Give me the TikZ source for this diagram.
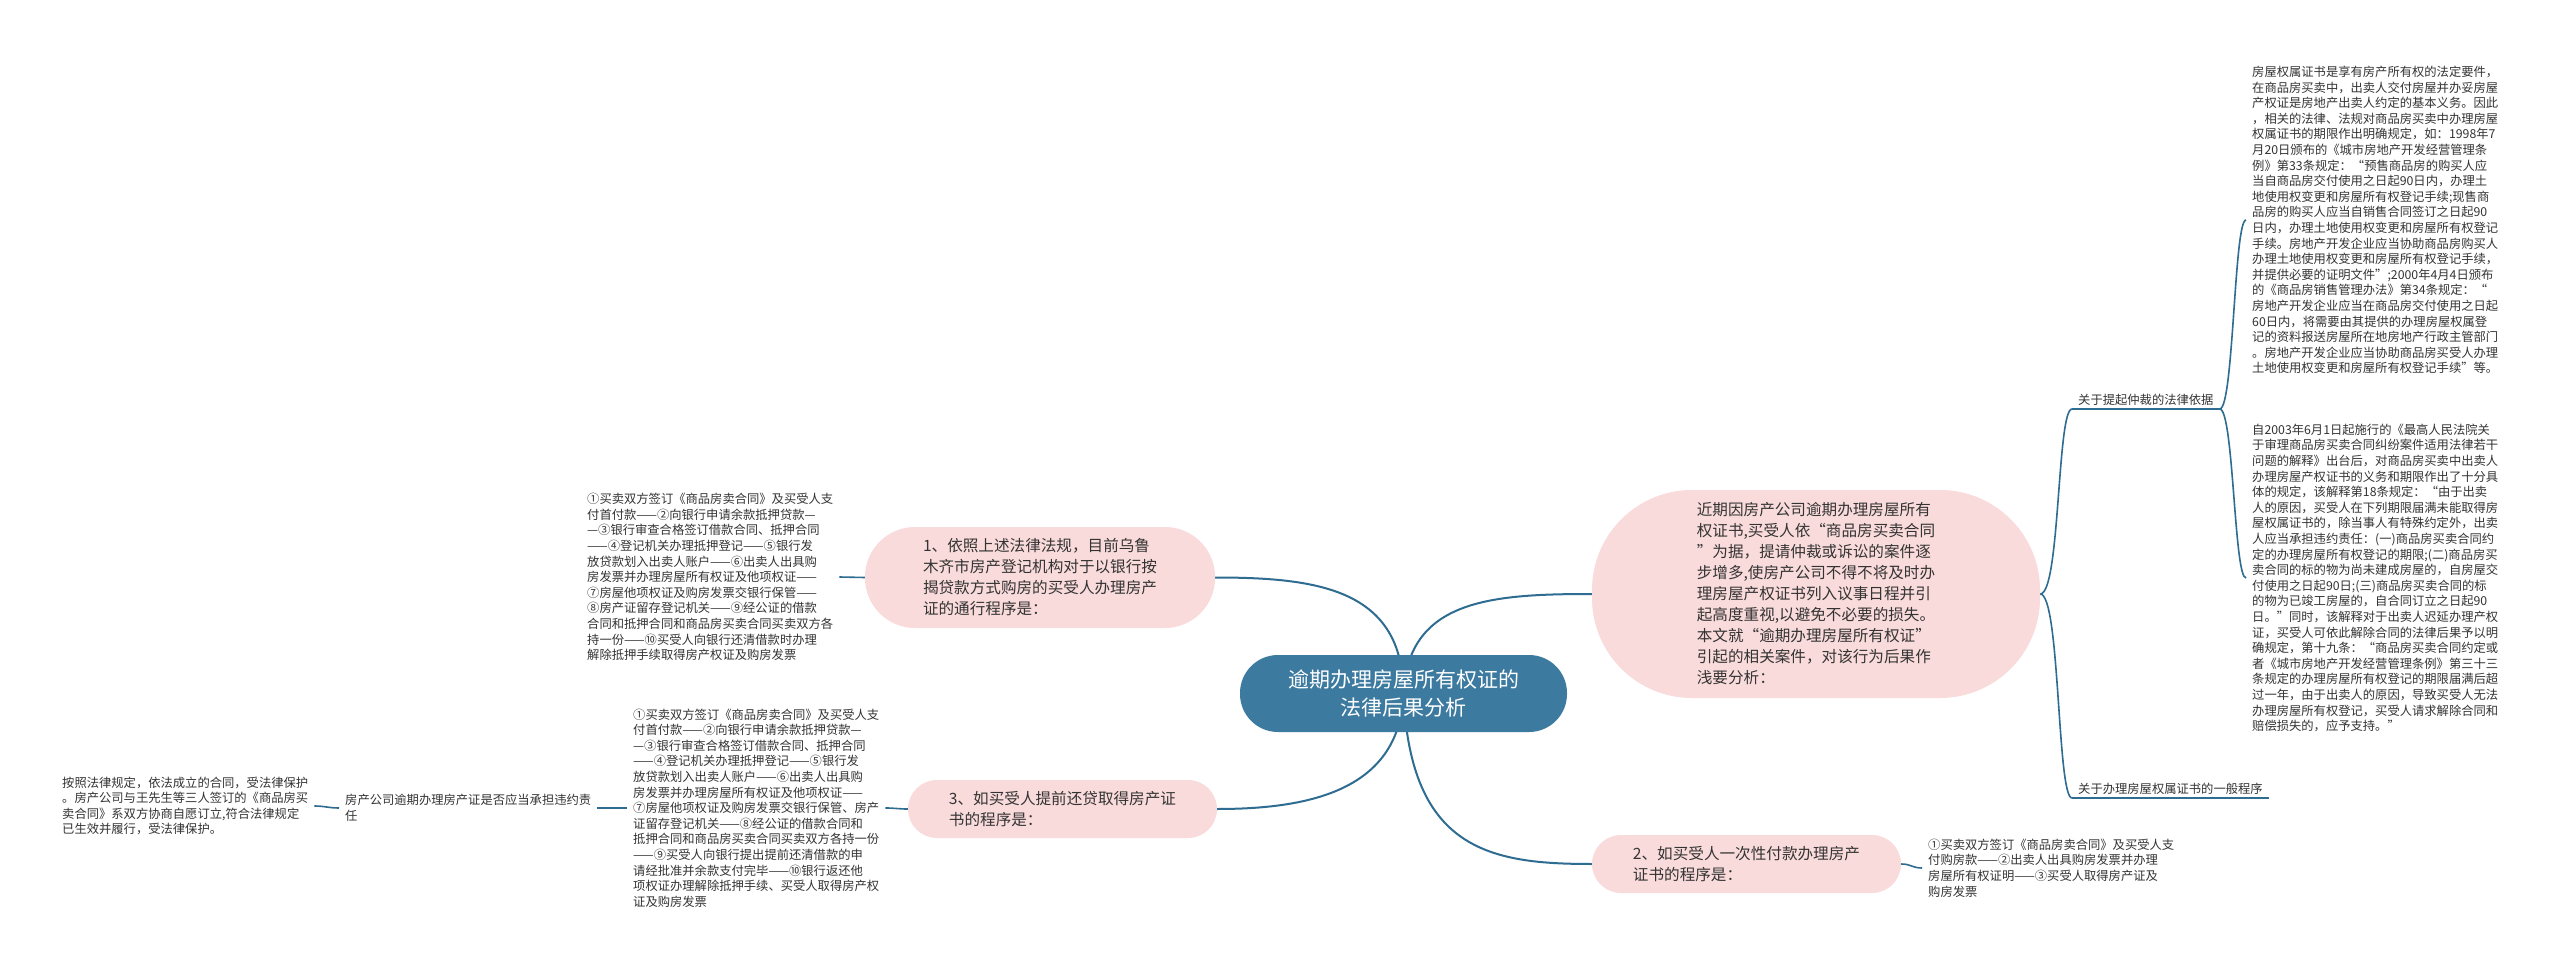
\documentclass[tikz,border=0pt]{standalone}
\usepackage{fontspec}
\newfontfamily\cjk{Noto Sans CJK SC}
\definecolor{pinkc}{RGB}{250,219,219}
\definecolor{rootc}{RGB}{60,122,160}
\definecolor{linec}{RGB}{46,108,145}
\definecolor{txt}{RGB}{51,51,51}
\pgfdeclarelayer{bg}
\pgfsetlayers{bg,main}
\tikzset{
  leaf/.style={font=\cjk\fontsize{12.3}{15.6}\selectfont, text=txt, align=left, inner xsep=6pt, inner ysep=2pt},
  lbl/.style={font=\cjk\fontsize{12.3}{15.6}\selectfont, text=txt, inner xsep=6pt, inner ysep=3pt},
  pinkbox/.style={fill=pinkc, font=\cjk\fontsize{15.6}{21}\selectfont, text=txt, align=left, inner sep=0pt},
  rootbox/.style={fill=rootc, font=\cjk\fontsize{21}{28}\selectfont, text=white, align=center, inner sep=0pt},
  conn/.style={draw=linec, line width=2pt},
  subconn/.style={draw=linec, line width=1.6pt},
}
\begin{document}
\begin{tikzpicture}[x=1pt,y=-1pt]
\useasboundingbox (0,0) rectangle (2560,973);

\node[rootbox, minimum width=327pt, minimum height=77pt, rounded corners=38pt] (root) at (1403.5,693.5) {逾期办理房屋所有权证的\\法律后果分析};

\node[pinkbox, minimum width=350pt, minimum height=101pt, rounded corners=50pt] (n1) at (1040,577.5) {1、依照上述法律法规，目前乌鲁\\木齐市房产登记机构对于以银行按\\揭贷款方式购房的买受人办理房产\\证的通行程序是：};

\node[pinkbox, minimum width=448pt, minimum height=208pt, rounded corners=100pt] (nA) at (1816,594) {近期因房产公司逾期办理房屋所有\\权证书,买受人依“商品房买卖合同\\”为据，提请仲裁或诉讼的案件逐\\步增多,使房产公司不得不将及时办\\理房屋产权证书列入议事日程并引\\起高度重视,以避免不必要的损失。\\本文就“逾期办理房屋所有权证”\\引起的相关案件，对该行为后果作\\浅要分析：};

\node[pinkbox, minimum width=309pt, minimum height=58pt, rounded corners=29pt] (n3) at (1062.5,809) {3、如买受人提前还贷取得房产证\\书的程序是：};

\node[pinkbox, minimum width=309pt, minimum height=58pt, rounded corners=29pt] (n2) at (1746.5,864) {2、如买受人一次性付款办理房产\\证书的程序是：};

\node[leaf, anchor=west] (b1) at (581,577) {①买卖双方签订《商品房卖合同》及买受人支\\付首付款——②向银行申请余款抵押贷款—\\—③银行审查合格签订借款合同、抵押合同\\——④登记机关办理抵押登记——⑤银行发\\放贷款划入出卖人账户——⑥出卖人出具购\\房发票并办理房屋所有权证及他项权证——\\⑦房屋他项权证及购房发票交银行保管——\\⑧房产证留存登记机关——⑨经公证的借款\\合同和抵押合同和商品房买卖合同买卖双方各\\持一份——⑩买受人向银行还清借款时办理\\解除抵押手续取得房产权证及购房发票};

\node[leaf, anchor=west] (b3) at (627,808) {①买卖双方签订《商品房卖合同》及买受人支\\付首付款——②向银行申请余款抵押贷款—\\—③银行审查合格签订借款合同、抵押合同\\——④登记机关办理抵押登记——⑤银行发\\放贷款划入出卖人账户——⑥出卖人出具购\\房发票并办理房屋所有权证及他项权证——\\⑦房屋他项权证及购房发票交银行保管、房产\\证留存登记机关——⑧经公证的借款合同和\\抵押合同和商品房买卖合同买卖双方各持一份\\——⑨买受人向银行提出提前还清借款的申\\请经批准并余款支付完毕——⑩银行返还他\\项权证办理解除抵押手续、买受人取得房产权\\证及购房发票};

\node[leaf, anchor=west] (lp) at (339,808) {房产公司逾期办理房产证是否应当承担违约责\\任};

\node[leaf, anchor=west] (fl) at (56,806) {按照法律规定，依法成立的合同，受法律保护\\。房产公司与王先生等三人签订的《商品房买\\卖合同》系双方协商自愿订立,符合法律规定\\已生效并履行，受法律保护。};

\node[leaf, anchor=west] (b2) at (1922,868) {①买卖双方签订《商品房卖合同》及买受人支\\付购房款——②出卖人出具购房发票并办理\\房屋所有权证明——③买受人取得房产证及\\购房发票};

\node[lbl, anchor=south west] (l1) at (2072,409) {关于提起仲裁的法律依据};
\node[lbl, anchor=south west] (l2) at (2072,798) {关于办理房屋权属证书的一般程序};

\node[leaf, anchor=west] (rb1) at (2246,220) {房屋权属证书是享有房产所有权的法定要件，\\在商品房买卖中，出卖人交付房屋并办妥房屋\\产权证是房地产出卖人约定的基本义务。因此\\，相关的法律、法规对商品房买卖中办理房屋\\权属证书的期限作出明确规定，如：1998年7\\月20日颁布的《城市房地产开发经营管理条\\例》第33条规定：“预售商品房的购买人应\\当自商品房交付使用之日起90日内，办理土\\地使用权变更和房屋所有权登记手续;现售商\\品房的购买人应当自销售合同签订之日起90\\日内，办理土地使用权变更和房屋所有权登记\\手续。房地产开发企业应当协助商品房购买人\\办理土地使用权变更和房屋所有权登记手续，\\并提供必要的证明文件”;2000年4月4日颁布\\的《商品房销售管理办法》第34条规定：“\\房地产开发企业应当在商品房交付使用之日起\\60日内，将需要由其提供的办理房屋权属登\\记的资料报送房屋所在地房地产行政主管部门\\。房地产开发企业应当协助商品房买受人办理\\土地使用权变更和房屋所有权登记手续”等。};

\node[leaf, anchor=west] (rb2) at (2246,578) {自2003年6月1日起施行的《最高人民法院关\\于审理商品房买卖合同纠纷案件适用法律若干\\问题的解释》出台后，对商品房买卖中出卖人\\办理房屋产权证书的义务和期限作出了十分具\\体的规定，该解释第18条规定：“由于出卖\\人的原因，买受人在下列期限届满未能取得房\\屋权属证书的，除当事人有特殊约定外，出卖\\人应当承担违约责任：(一)商品房买卖合同约\\定的办理房屋所有权登记的期限;(二)商品房买\\卖合同的标的物为尚未建成房屋的，自房屋交\\付使用之日起90日;(三)商品房买卖合同的标\\的物为已竣工房屋的，自合同订立之日起90\\日。”同时，该解释对于出卖人迟延办理产权\\证，买受人可依此解除合同的法律后果予以明\\确规定，第十九条：“商品房买卖合同约定或\\者《城市房地产开发经营管理条例》第三十三\\条规定的办理房屋所有权登记的期限届满后超\\过一年，由于出卖人的原因，导致买受人无法\\办理房屋所有权登记，买受人请求解除合同和\\赔偿损失的，应予支持。”};

\begin{pgfonlayer}{bg}
\fill[white] (0,0) rectangle (2560,973);
\draw[conn] (root.center) .. controls (1403,590) and (1320,577.5) .. (n1.east);
\draw[conn] (root.center) .. controls (1408,600) and (1490,594) .. (nA.west);
\draw[conn] (root.center) .. controls (1400,790) and (1310,809) .. (n3.east);
\draw[conn] (root.center) .. controls (1410,850) and (1490,864) .. (n2.west);
\draw[subconn] (b1.east) .. controls +(12,0) and +(-12,0) .. (n1.west);
\draw[subconn] (b3.east) .. controls +(10,0) and +(-10,0) .. (n3.west);
\draw[subconn] (lp.east) .. controls +(12,0) and +(-12,0) .. (b3.west);
\draw[subconn] (fl.east) .. controls +(10,0) and +(-10,0) .. (lp.west);
\draw[subconn] (n2.east) .. controls +(10,0) and +(-10,0) .. (b2.west);
\draw[subconn] (nA.east) .. controls +(20,0) and +(-15,0) .. (l1.south west);
\draw[subconn] (nA.east) .. controls +(20,0) and +(-15,0) .. (l2.south west);
\draw[subconn] (l1.south west) -- (l1.south east);
\draw[subconn] (l2.south west) -- (l2.south east);
\draw[subconn] (l1.south east) .. controls +(14,0) and +(-12,0) .. (rb1.west);
\draw[subconn] (l1.south east) .. controls +(14,0) and +(-12,0) .. (rb2.west);
\end{pgfonlayer}
\end{tikzpicture}
\end{document}
